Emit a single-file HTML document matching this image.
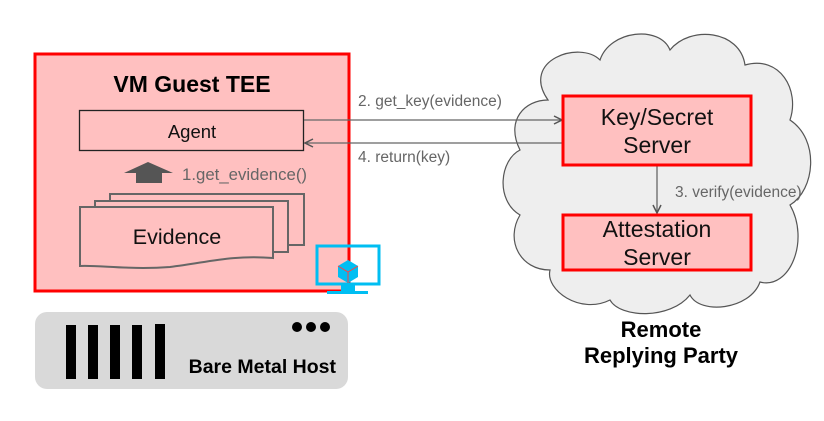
<!DOCTYPE html>
<html><head><meta charset="utf-8"><style>
body{margin:0;background:#fff}
svg{display:block;font-family:"Liberation Sans",Arial,sans-serif}
</style></head><body>
<svg width="824" height="421" viewBox="0 0 824 421">
<defs><marker id="ah" markerWidth="10" markerHeight="10" refX="9" refY="5" orient="auto" markerUnits="userSpaceOnUse"><path d="M1,1 L9,5 L1,9" fill="none" stroke="#555" stroke-width="1.5"/></marker></defs>
<path d="M548,100 C520,60 580,40 600,60 C610,30 660,25 670,50 C690,25 740,30 745,65 C780,55 800,90 790,120 C820,140 815,190 790,205 C810,240 790,290 760,282 C750,310 700,315 690,295 C670,320 620,318 610,300 C580,315 545,290 550,270 C520,270 505,240 520,215 C495,200 500,160 520,150 C505,120 525,100 548,100 Z" fill="#eeeeee" stroke="#555" stroke-width="1.2"/>
<rect x="35" y="54" width="314" height="237" fill="#ffc0c0" stroke="#ff0000" stroke-width="3"/>
<text x="192" y="92" font-size="23" font-weight="bold" text-anchor="middle">VM Guest TEE</text>
<rect x="79.5" y="110.5" width="224" height="40" fill="#ffc0c0" stroke="#222" stroke-width="1.3"/>
<text x="192" y="138" font-size="18.5" text-anchor="middle" fill="#111">Agent</text>
<path d="M124,173 L148,162 L173,173 L162,173 L162,183 L136,183 L136,173 Z" fill="#555"/>
<text x="182" y="180" font-size="16.8" fill="#666">1.get_evidence()</text>
<rect x="110" y="194" width="194" height="51" fill="#ffc0c0" stroke="#666" stroke-width="2"/>
<rect x="95" y="201" width="193" height="51" fill="#ffc0c0" stroke="#666" stroke-width="2"/>
<path d="M80,207 L273,207 L273,258 C230,255 210,262 170,267 C130,270 100,265 80,266 Z" fill="#ffc0c0" stroke="#666" stroke-width="2"/>
<text x="177" y="244" font-size="21.5" text-anchor="middle" fill="#111">Evidence</text>
<rect x="317" y="246" width="62" height="38" fill="none" stroke="#00bef2" stroke-width="3"/>
<rect x="341" y="285" width="14" height="7" fill="#00bef2"/>
<rect x="327" y="291" width="41" height="3" fill="#00bef2"/>
<path d="M338,266 L348,260 L358,266 L358,277 L348,283 L338,277 Z" fill="#00bef2"/>
<path d="M338,266 L348,272 L358,266 M348,272 L348,283" stroke="#ff4040" stroke-width="1" fill="none"/>
<rect x="35" y="312" width="313" height="77" rx="12" fill="#d9d9d9"/>
<g fill="#000"><rect x="66" y="325" width="10" height="54"/><rect x="88" y="325" width="10" height="54"/><rect x="110" y="325" width="10" height="54"/><rect x="132" y="325" width="10" height="54"/><rect x="155" y="324" width="10" height="55"/>
<circle cx="297" cy="327" r="5"/><circle cx="311" cy="327" r="5"/><circle cx="325" cy="327" r="5"/></g>
<text x="336" y="373" font-size="19.5" font-weight="bold" text-anchor="end">Bare Metal Host</text>
<line x1="304" y1="120" x2="562" y2="120" stroke="#666" stroke-width="1.3" marker-end="url(#ah)"/>
<line x1="563" y1="143" x2="305" y2="143" stroke="#666" stroke-width="1.3" marker-end="url(#ah)"/>
<text x="358" y="106" font-size="15.5" fill="#666">2. get_key(evidence)</text>
<text x="358" y="162" font-size="15.5" fill="#666">4. return(key)</text>
<line x1="657" y1="166" x2="657" y2="213" stroke="#666" stroke-width="1.3" marker-end="url(#ah)"/>
<text x="675" y="197" font-size="15.5" fill="#666">3. verify(evidence)</text>
<rect x="563" y="96" width="188" height="69" fill="#ffc0c0" stroke="#ff0000" stroke-width="3"/>
<text x="657" y="125" font-size="23" text-anchor="middle" fill="#111">Key/Secret</text>
<text x="657" y="153" font-size="23" text-anchor="middle" fill="#111">Server</text>
<rect x="563" y="215" width="188" height="55" fill="#ffc0c0" stroke="#ff0000" stroke-width="3"/>
<text x="657" y="237" font-size="23" text-anchor="middle" fill="#111">Attestation</text>
<text x="657" y="265" font-size="23" text-anchor="middle" fill="#111">Server</text>
<text x="661" y="337" font-size="22" font-weight="bold" text-anchor="middle">Remote</text>
<text x="661" y="363" font-size="22" font-weight="bold" text-anchor="middle">Replying Party</text>
</svg>
</body></html>
